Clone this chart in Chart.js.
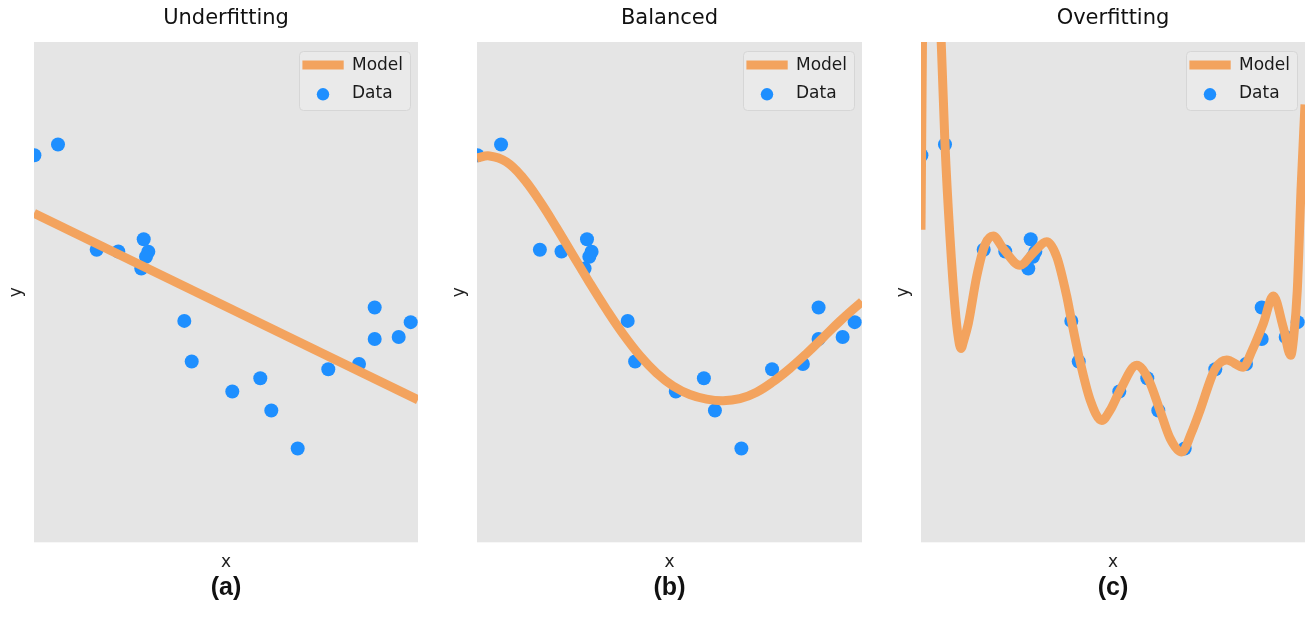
<!DOCTYPE html>
<html>
<head>
<meta charset="utf-8">
<script src="https://cdn.jsdelivr.net/npm/chart.js@4.4.1/dist/chart.umd.min.js"></script>
<style>
html,body{margin:0;padding:0;background:#fff;overflow:hidden;width:1313px;height:618px;}
canvas{position:absolute;top:0;}
</style>
</head>
<body>
<canvas id="ca" width="452" height="618" style="left:0px"></canvas>
<canvas id="cb" width="453" height="618" style="left:443px"></canvas>
<canvas id="cc" width="452" height="618" style="left:887px"></canvas>
<script>
// ---------- data ----------
const panelTitles = ["Underfitting", "Balanced", "Overfitting"];
const panelLabels = ["(a)", "(b)", "(c)"];
const seriesNames = ["Model", "Data"];

const dataX = [0.001, 0.0625, 0.1633, 0.2195, 0.2857, 0.2977, 0.2917, 0.2794, 0.3914, 0.4107,
               0.5164, 0.5893, 0.6180, 0.6867, 0.7664, 0.8464, 0.8872, 0.8872, 0.9497, 0.9810];
const dataY = [1.095, 1.180, 0.339, 0.325, 0.423, 0.323, 0.283, 0.189, -0.230, -0.555,
               -0.794, -0.688, -0.946, -1.250, -0.616, -0.574, -0.123, -0.375, -0.359, -0.240];

const modelAX = [0, 1];
const modelAY = [0.631, -0.861];

const modelBX = [0, 0.0325, 0.0759, 0.1191, 0.1625, 0.2060, 0.2492, 0.2926, 0.3360, 0.3792,
                 0.4226, 0.4661, 0.5092, 0.5527, 0.5961, 0.6393, 0.6827, 0.7262, 0.7693, 0.8127,
                 0.8562, 0.8993, 0.9428, 1.0];
const modelBY = [1.073, 1.089, 1.042, 0.915, 0.730, 0.518, 0.296, 0.074, -0.138, -0.334,
                 -0.506, -0.646, -0.750, -0.818, -0.855, -0.868, -0.852, -0.800, -0.715, -0.610,
                 -0.490, -0.362, -0.232, -0.075];

const modelCX = [0, 0.002, 0.004, 0.010, 0.026, 0.044, 0.0526, 0.0625, 0.0755, 0.0885,
                 0.097, 0.104, 0.112, 0.1232, 0.1451, 0.1667, 0.1883, 0.2143, 0.2578, 0.2924,
                 0.3273, 0.3534, 0.3794, 0.3924, 0.4141, 0.4401, 0.4706, 0.4922, 0.5182, 0.5617,
                 0.5919, 0.6224, 0.6484, 0.6789, 0.7049, 0.7266, 0.7656, 0.7961, 0.8393, 0.8612,
                 0.8914, 0.9174, 0.9435, 0.9628, 0.9705, 0.9800, 0.9896, 1.0];
const modelCY = [0.499, 1.30, 2.05, 3.4, 4.4, 3.0, 2.0, 1.18, 0.44, -0.12,
                 -0.36, -0.45, -0.38, -0.251, 0.126, 0.379, 0.448, 0.347, 0.215, 0.315,
                 0.403, 0.283, -0.031, -0.236, -0.553, -0.858, -1.026, -0.946, -0.786, -0.584,
                 -0.694, -0.946, -1.167, -1.278, -1.120, -0.946, -0.616, -0.543, -0.600, -0.473,
                 -0.251, -0.031, -0.283, -0.505, -0.36, 0.02, 0.818, 1.50];

const xRange = [0, 1];
const yRange = [-2, 2];

// ---------- styles ----------
const ORANGE = '#F3A35E';
const BLUE = '#1E8FFF';
const PLOT_BG = '#E5E5E5';

const plotBg = {
  id: 'plotBg',
  beforeDatasetsDraw(chart) {
    const {ctx, chartArea: a} = chart;
    ctx.save();
    ctx.fillStyle = PLOT_BG;
    ctx.fillRect(a.left, a.top, a.right - a.left, a.bottom - a.top);
    ctx.restore();
  }
};

const boxLegend = {
  id: 'boxLegend',
  afterDatasetsDraw(chart) {
    const {ctx, chartArea: a} = chart;
    const ds = chart.data.datasets;
    const W = 111, H = 59;
    const L = a.right - 8 - W, T = a.top + 9;
    ctx.save();
    ctx.beginPath();
    ctx.roundRect(L + 0.5, T + 0.5, W, H, 4);
    ctx.fillStyle = '#EAEAEA';
    ctx.fill();
    ctx.strokeStyle = '#D6D6D6';
    ctx.lineWidth = 1;
    ctx.stroke();
    // Model swatch
    ctx.beginPath();
    ctx.moveTo(L + 3.4, T + 14);
    ctx.lineTo(L + 44.7, T + 14);
    ctx.strokeStyle = ds[0].borderColor;
    ctx.lineWidth = 9;
    ctx.lineCap = 'butt';
    ctx.stroke();
    // Data marker
    ctx.beginPath();
    ctx.arc(L + 24, T + 43.3, 6.2, 0, Math.PI * 2);
    ctx.fillStyle = ds[1].backgroundColor;
    ctx.fill();
    // texts
    ctx.fillStyle = '#1a1a1a';
    ctx.font = '17px "DejaVu Sans"';
    ctx.textBaseline = 'middle';
    ctx.textAlign = 'left';
    ctx.fillText(ds[0].label, L + 53, T + 14.7);
    ctx.fillText(ds[1].label, L + 53, T + 42.9);
    ctx.restore();
  }
};

function makeChart(id, idx, mx, my, lineOpts, padRight) {
  const model = mx.map((x, i) => ({x: x, y: my[i]}));
  const pts = dataX.map((x, i) => ({x: x, y: dataY[i]}));
  const axisTitleFont = {family: 'DejaVu Sans', size: 17, weight: 'normal'};
  return new Chart(document.getElementById(id), {
    type: 'scatter',
    data: {
      datasets: [
        Object.assign({
          type: 'line',
          label: seriesNames[0],
          data: model,
          borderColor: ORANGE,
          backgroundColor: ORANGE,
          borderWidth: 9,
          pointRadius: 0,
          showLine: true,
          fill: false,
          borderCapStyle: 'butt',
          borderJoinStyle: 'round'
        }, lineOpts),
        {
          type: 'scatter',
          label: seriesNames[1],
          data: pts,
          backgroundColor: BLUE,
          borderWidth: 0,
          pointRadius: 7,
          pointHoverRadius: 7
        }
      ]
    },
    options: {
      responsive: false,
      animation: false,
      events: [],
      layout: {padding: {left: 0, right: padRight, top: 0, bottom: 0}},
      plugins: {
        legend: {display: false},
        tooltip: {enabled: false},
        title: {
          display: true,
          fullSize: false,
          text: panelTitles[idx],
          color: '#111',
          font: {family: 'DejaVu Sans', size: 21, weight: 'normal'},
          padding: {top: 5.6, bottom: 11.2}
        },
        subtitle: {
          display: true,
          fullSize: false,
          text: panelLabels[idx],
          position: 'bottom',
          color: '#111',
          font: {family: 'Liberation Sans', size: 25, weight: 'bold'},
          padding: {top: 0, bottom: 14.8}
        }
      },
      scales: {
        x: {
          type: 'linear', min: xRange[0], max: xRange[1],
          grid: {display: false, drawTicks: false},
          border: {display: false},
          ticks: {display: false},
          title: {display: true, text: 'x', color: '#222', font: axisTitleFont, padding: {top: 10.2, bottom: 0.3}}
        },
        y: {
          type: 'linear', min: yRange[0], max: yRange[1],
          grid: {display: false, drawTicks: false},
          border: {display: false},
          ticks: {display: false},
          title: {display: true, text: 'y', color: '#222', font: axisTitleFont, padding: {top: 5.9, bottom: 7.7}}
        }
      }
    },
    plugins: [plotBg, boxLegend]
  });
}

makeChart('ca', 0, modelAX, modelAY, {tension: 0}, 34);
makeChart('cb', 1, modelBX, modelBY, {tension: 0.4}, 34);
makeChart('cc', 2, modelCX, modelCY, {cubicInterpolationMode: 'monotone'}, 34);
</script>
</body>
</html>
